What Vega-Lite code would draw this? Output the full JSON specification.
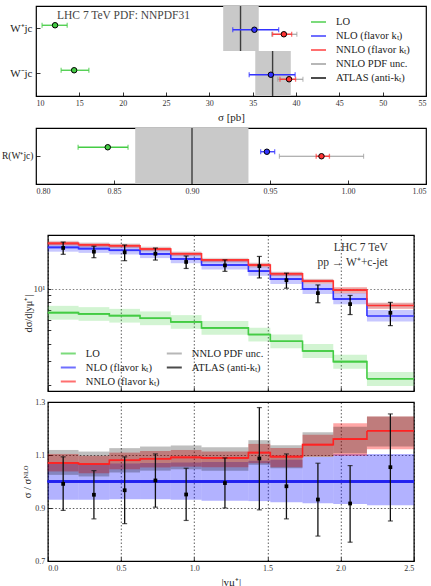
{
  "$schema": "https://vega.github.io/schema/vega-lite/v6.json",
  "background": "white",
  "padding": {"left": 0, "top": 5, "right": 0, "bottom": 0},
  "config": {
    "font": "Liberation Serif",
    "view": {"stroke": "#000", "strokeWidth": 1.2},
    "axis": {
      "domain": false, "grid": false, "labelOverlap": false,
      "labelFont": "Liberation Serif", "labelFontSize": 8, "labelColor": "#333",
      "tickColor": "#000", "tickSize": -4, "tickWidth": 0.8, "labelPadding": 7,
      "titleFont": "Liberation Serif", "titleFontWeight": "normal", "titleFontSize": 11, "titleColor": "#222",
      "gridColor": "#000", "gridDash": [1.5, 2], "gridWidth": 0.8, "gridOpacity": 0.8
    },
    "legend": {
      "labelFont": "Liberation Serif", "labelFontSize": 10.5, "labelColor": "#222",
      "symbolType": "stroke", "symbolSize": 225, "symbolStrokeWidth": 2,
      "padding": 0, "offset": 0, "title": null
    },
    "title": {"font": "Liberation Serif", "fontWeight": "normal", "color": "#444"}
  },
  "datasets": {
    "totals": [
      {"proc": "W⁺jc", "series": "LO", "val": 12.2, "dn": 10.7, "up": 13.6},
      {"proc": "W⁺jc", "series": "NLO (flavor kₜ)", "val": 35.2, "dn": 32.7, "up": 38.0},
      {"proc": "W⁺jc", "series": "NNLO (flavor kₜ)", "val": 38.6, "dn": 37.3, "up": 39.5, "pdf_dn": 37.2, "pdf_up": 40.1},
      {"proc": "W⁺jc", "series": "ATLAS", "val": 33.6, "dn": 31.6, "up": 35.7},
      {"proc": "W⁻jc", "series": "LO", "val": 14.4, "dn": 12.9, "up": 16.1},
      {"proc": "W⁻jc", "series": "NLO (flavor kₜ)", "val": 37.1, "dn": 34.6, "up": 39.9},
      {"proc": "W⁻jc", "series": "NNLO (flavor kₜ)", "val": 39.2, "dn": 38.15, "up": 39.95, "pdf_dn": 37.9, "pdf_up": 40.8},
      {"proc": "W⁻jc", "series": "ATLAS", "val": 37.3, "dn": 35.3, "up": 39.4}
    ],
    "ratio": [
      {"proc": "R(W⁺jc)", "series": "LO", "val": 0.846, "dn": 0.827, "up": 0.859},
      {"proc": "R(W⁺jc)", "series": "NLO (flavor kₜ)", "val": 0.948, "dn": 0.944, "up": 0.953},
      {"proc": "R(W⁺jc)", "series": "NNLO (flavor kₜ)", "val": 0.983, "dn": 0.9796, "up": 0.9881, "pdf_dn": 0.956, "pdf_up": 1.010},
      {"proc": "R(W⁺jc)", "series": "ATLAS", "val": 0.900, "dn": 0.8636, "up": 0.9362}
    ],
    "bins": [
      {"lo": 0.0, "hi": 0.21, "mid": 0.105, "lo_v": 6.73, "lo_dn": 5.99, "lo_up": 7.54, "nlo": 20.0, "nlo_dn": 18.62, "nlo_up": 21.32, "nnlo": 21.40, "sc_dn": 20.76, "sc_up": 22.08, "pdf_dn": 20.50, "pdf_up": 22.38, "at": 19.82, "at_dn": 17.82, "at_up": 21.86, "r_nlo_dn": 0.931, "r_nlo_up": 1.066, "r_nnlo": 1.070, "r_sc_dn": 1.038, "r_sc_up": 1.104, "r_pdf_dn": 1.025, "r_pdf_up": 1.119, "r_at": 0.991, "r_at_dn": 0.891, "r_at_up": 1.093},
      {"lo": 0.21, "hi": 0.42, "mid": 0.315, "lo_v": 6.59, "lo_dn": 5.87, "lo_up": 7.38, "nlo": 19.6, "nlo_dn": 18.25, "nlo_up": 20.89, "nnlo": 20.89, "sc_dn": 20.21, "sc_up": 21.50, "pdf_dn": 19.97, "pdf_up": 21.81, "at": 18.62, "at_dn": 16.84, "at_up": 20.40, "r_nlo_dn": 0.931, "r_nlo_up": 1.066, "r_nnlo": 1.066, "r_sc_dn": 1.031, "r_sc_up": 1.097, "r_pdf_dn": 1.019, "r_pdf_up": 1.113, "r_at": 0.950, "r_at_dn": 0.859, "r_at_up": 1.041},
      {"lo": 0.42, "hi": 0.63, "mid": 0.525, "lo_v": 6.40, "lo_dn": 5.70, "lo_up": 7.17, "nlo": 19.05, "nlo_dn": 17.77, "nlo_up": 20.35, "nnlo": 20.57, "sc_dn": 19.93, "sc_up": 21.13, "pdf_dn": 19.70, "pdf_up": 21.45, "at": 18.42, "at_dn": 16.02, "at_up": 20.82, "r_nlo_dn": 0.933, "r_nlo_up": 1.068, "r_nnlo": 1.080, "r_sc_dn": 1.046, "r_sc_up": 1.109, "r_pdf_dn": 1.034, "r_pdf_up": 1.126, "r_at": 0.967, "r_at_dn": 0.841, "r_at_up": 1.093},
      {"lo": 0.63, "hi": 0.84, "mid": 0.735, "lo_v": 6.13, "lo_dn": 5.46, "lo_up": 6.87, "nlo": 17.93, "nlo_dn": 16.73, "nlo_up": 19.19, "nnlo": 19.47, "sc_dn": 18.88, "sc_up": 19.99, "pdf_dn": 18.67, "pdf_up": 20.30, "at": 18.00, "at_dn": 16.19, "at_up": 19.79, "r_nlo_dn": 0.933, "r_nlo_up": 1.070, "r_nnlo": 1.086, "r_sc_dn": 1.053, "r_sc_up": 1.115, "r_pdf_dn": 1.041, "r_pdf_up": 1.132, "r_at": 1.004, "r_at_dn": 0.903, "r_at_up": 1.104},
      {"lo": 0.84, "hi": 1.05, "mid": 0.945, "lo_v": 5.77, "lo_dn": 5.14, "lo_up": 6.46, "nlo": 16.5, "nlo_dn": 15.36, "nlo_up": 17.69, "nnlo": 18.00, "sc_dn": 17.42, "sc_up": 18.46, "pdf_dn": 17.26, "pdf_up": 18.74, "at": 15.69, "at_dn": 14.07, "at_up": 17.33, "r_nlo_dn": 0.931, "r_nlo_up": 1.072, "r_nnlo": 1.091, "r_sc_dn": 1.056, "r_sc_up": 1.119, "r_pdf_dn": 1.046, "r_pdf_up": 1.136, "r_at": 0.951, "r_at_dn": 0.853, "r_at_up": 1.050},
      {"lo": 1.05, "hi": 1.37, "mid": 1.21, "lo_v": 5.22, "lo_dn": 4.65, "lo_up": 5.85, "nlo": 14.9, "nlo_dn": 13.81, "nlo_up": 16.00, "nnlo": 16.23, "sc_dn": 15.70, "sc_up": 16.58, "pdf_dn": 15.51, "pdf_up": 16.82, "at": 14.81, "at_dn": 13.41, "at_up": 16.23, "r_nlo_dn": 0.927, "r_nlo_up": 1.074, "r_nnlo": 1.089, "r_sc_dn": 1.054, "r_sc_up": 1.113, "r_pdf_dn": 1.041, "r_pdf_up": 1.129, "r_at": 0.994, "r_at_dn": 0.900, "r_at_up": 1.089},
      {"lo": 1.37, "hi": 1.52, "mid": 1.445, "lo_v": 4.67, "lo_dn": 4.16, "lo_up": 5.23, "nlo": 13.45, "nlo_dn": 12.45, "nlo_up": 14.50, "nnlo": 14.92, "sc_dn": 14.38, "sc_up": 15.36, "pdf_dn": 14.30, "pdf_up": 15.55, "at": 14.62, "at_dn": 12.01, "at_up": 17.20, "r_nlo_dn": 0.926, "r_nlo_up": 1.078, "r_nnlo": 1.109, "r_sc_dn": 1.069, "r_sc_up": 1.142, "r_pdf_dn": 1.063, "r_pdf_up": 1.156, "r_at": 1.087, "r_at_dn": 0.893, "r_at_up": 1.279},
      {"lo": 1.52, "hi": 1.74, "mid": 1.63, "lo_v": 4.18, "lo_dn": 3.72, "lo_up": 4.68, "nlo": 11.78, "nlo_dn": 10.86, "nlo_up": 12.75, "nnlo": 12.89, "sc_dn": 12.42, "sc_up": 13.26, "pdf_dn": 12.37, "pdf_up": 13.39, "at": 11.57, "at_dn": 10.12, "at_up": 13.01, "r_nlo_dn": 0.922, "r_nlo_up": 1.082, "r_nnlo": 1.094, "r_sc_dn": 1.054, "r_sc_up": 1.126, "r_pdf_dn": 1.050, "r_pdf_up": 1.137, "r_at": 0.982, "r_at_dn": 0.859, "r_at_up": 1.104},
      {"lo": 1.74, "hi": 1.95, "mid": 1.845, "lo_v": 3.55, "lo_dn": 3.16, "lo_up": 3.98, "nlo": 10.0, "nlo_dn": 9.18, "nlo_up": 10.92, "nnlo": 11.39, "sc_dn": 10.94, "sc_up": 11.76, "pdf_dn": 10.92, "pdf_up": 11.86, "at": 9.32, "at_dn": 7.94, "at_up": 10.69, "r_nlo_dn": 0.918, "r_nlo_up": 1.092, "r_nnlo": 1.139, "r_sc_dn": 1.094, "r_sc_up": 1.176, "r_pdf_dn": 1.092, "r_pdf_up": 1.186, "r_at": 0.932, "r_at_dn": 0.794, "r_at_up": 1.069},
      {"lo": 1.95, "hi": 2.18, "mid": 2.065, "lo_v": 2.97, "lo_dn": 2.64, "lo_up": 3.33, "nlo": 8.46, "nlo_dn": 7.74, "nlo_up": 9.34, "nnlo": 9.81, "sc_dn": 9.28, "sc_up": 10.32, "pdf_dn": 9.37, "pdf_up": 10.21, "at": 7.76, "at_dn": 6.52, "at_up": 8.97, "r_nlo_dn": 0.915, "r_nlo_up": 1.104, "r_nnlo": 1.160, "r_sc_dn": 1.097, "r_sc_up": 1.220, "r_pdf_dn": 1.107, "r_pdf_up": 1.207, "r_at": 0.917, "r_at_dn": 0.771, "r_at_up": 1.060},
      {"lo": 2.18, "hi": 2.5, "mid": 2.34, "lo_v": 2.23, "lo_dn": 1.98, "lo_up": 2.50, "nlo": 6.37, "nlo_dn": 5.80, "nlo_up": 7.03, "nnlo": 7.59, "sc_dn": 7.15, "sc_up": 7.93, "pdf_dn": 7.21, "pdf_up": 7.93, "at": 6.71, "at_dn": 5.42, "at_up": 7.99, "r_nlo_dn": 0.910, "r_nlo_up": 1.104, "r_nnlo": 1.191, "r_sc_dn": 1.122, "r_sc_up": 1.245, "r_pdf_dn": 1.132, "r_pdf_up": 1.245, "r_at": 1.054, "r_at_dn": 0.851, "r_at_up": 1.255}
    ]
  },
  "spacing": 38,
  "center": true,
  "resolve": {"scale": {"color": "independent"}, "legend": {"color": "independent"}},
  "vconcat": [
    {
      "spacing": 4,
      "resolve": {"scale": {"color": "independent"}, "legend": {"color": "independent"}},
      "vconcat": [
        {
          "width": 390, "height": 90,
          "data": {"name": "totals"},
          "title": {"text": "LHC 7 TeV PDF: NNPDF31", "anchor": "start", "align": "left", "frame": "group", "offset": -15, "dx": 21, "fontSize": 11.5},
          "encoding": {
            "y": {"field": "proc", "type": "nominal", "title": null,
                  "scale": {"domain": ["W⁺jc", "W⁻jc"], "paddingInner": 0, "paddingOuter": 0},
                  "axis": {"labelFontSize": 11, "labelColor": "#222", "labelPadding": 8}}
          },
          "layer": [
            {
              "transform": [{"filter": "datum.series === 'ATLAS'"}],
              "mark": {"type": "bar", "color": "#c9c9c9"},
              "encoding": {
                "x": {"field": "dn", "type": "quantitative", "title": "σ [pb]",
                      "scale": {"domain": [10, 55], "nice": false},
                      "axis": {"values": [10, 15, 20, 25, 30, 35, 40, 45, 50, 55], "format": "d", "labelFlush": true}},
                "x2": {"field": "up"}
              }
            },
            {
              "transform": [{"filter": "datum.series === 'ATLAS'"}],
              "mark": {"type": "tick", "size": 45, "thickness": 1.4},
              "encoding": {
                "x": {"field": "val", "type": "quantitative", "title": "σ [pb]"},
                "color": {"datum": "ATLAS (anti-kₜ)"}
              }
            },
            {
              "transform": [{"filter": "isValid(datum.pdf_dn)"}],
              "mark": {"type": "rule", "strokeWidth": 1.1},
              "encoding": {
                "x": {"field": "pdf_dn", "type": "quantitative", "title": "σ [pb]"},
                "x2": {"field": "pdf_up"},
                "yOffset": {"field": "series", "type": "nominal", "scale": {"domain": ["LO", "NLO (flavor kₜ)", "NNLO (flavor kₜ)"], "paddingInner": 0, "paddingOuter": 0, "range": [17, 30.5]}},
                "color": {"datum": "NNLO PDF unc."}
              }
            },
            {
              "transform": [{"filter": "isValid(datum.pdf_dn)"}],
              "mark": {"type": "tick", "size": 5, "thickness": 1.1},
              "encoding": {
                "x": {"field": "pdf_dn", "type": "quantitative", "title": "σ [pb]"},
                "yOffset": {"field": "series", "type": "nominal"},
                "color": {"datum": "NNLO PDF unc."}
              }
            },
            {
              "transform": [{"filter": "isValid(datum.pdf_dn)"}],
              "mark": {"type": "tick", "size": 5, "thickness": 1.1},
              "encoding": {
                "x": {"field": "pdf_up", "type": "quantitative", "title": "σ [pb]"},
                "yOffset": {"field": "series", "type": "nominal"},
                "color": {"datum": "NNLO PDF unc."}
              }
            },
            {
              "transform": [{"filter": "datum.series !== 'ATLAS'"}],
              "mark": {"type": "rule", "strokeWidth": 1.3},
              "encoding": {
                "x": {"field": "dn", "type": "quantitative", "title": "σ [pb]"},
                "x2": {"field": "up"},
                "yOffset": {"field": "series", "type": "nominal"},
                "color": {"field": "series", "type": "nominal"}
              }
            },
            {
              "transform": [{"filter": "datum.series !== 'ATLAS'"}],
              "mark": {"type": "tick", "size": 5, "thickness": 1.3},
              "encoding": {
                "x": {"field": "dn", "type": "quantitative", "title": "σ [pb]"},
                "yOffset": {"field": "series", "type": "nominal"},
                "color": {"field": "series", "type": "nominal"}
              }
            },
            {
              "transform": [{"filter": "datum.series !== 'ATLAS'"}],
              "mark": {"type": "tick", "size": 5, "thickness": 1.3},
              "encoding": {
                "x": {"field": "up", "type": "quantitative", "title": "σ [pb]"},
                "yOffset": {"field": "series", "type": "nominal"},
                "color": {"field": "series", "type": "nominal"}
              }
            },
            {
              "transform": [{"filter": "datum.series !== 'ATLAS'"}],
              "mark": {"type": "point", "filled": true, "size": 30, "stroke": "#000", "strokeWidth": 1, "opacity": 1},
              "encoding": {
                "x": {"field": "val", "type": "quantitative", "title": "σ [pb]"},
                "yOffset": {"field": "series", "type": "nominal"},
                "color": {"field": "series", "type": "nominal",
                          "scale": {"domain": ["LO", "NLO (flavor kₜ)", "NNLO (flavor kₜ)", "NNLO PDF unc.", "ATLAS (anti-kₜ)"],
                                    "range": ["#44cc44", "#3333ff", "#ff3333", "#999999", "#000000"]},
                          "legend": {"orient": "none", "legendX": 274, "legendY": 7.5, "rowPadding": -0.7, "labelOffset": 9,
                                     "encode": {"symbols": {"update": {"stroke": {"signal": "{'LO': '#44cc44', 'NLO (flavor kₜ)': '#3333ff', 'NNLO (flavor kₜ)': '#ff3333', 'NNLO PDF unc.': '#999999', 'ATLAS (anti-kₜ)': '#000000'}[datum.value]"}, "fill": {"value": "transparent"}, "strokeWidth": {"value": 2}, "opacity": {"value": 1}}}}}}
              }
            }
          ]
        },
        {
          "width": 390, "height": 56,
          "data": {"name": "ratio"},
          "encoding": {
            "y": {"field": "proc", "type": "nominal", "title": null,
                  "scale": {"paddingInner": 0, "paddingOuter": 0},
                  "axis": {"labelFontSize": 9.5, "labelColor": "#222", "labelPadding": 7}}
          },
          "layer": [
            {
              "transform": [{"filter": "datum.series === 'ATLAS'"}],
              "mark": {"type": "bar", "color": "#c9c9c9"},
              "encoding": {
                "x": {"field": "dn", "type": "quantitative", "title": null,
                      "scale": {"domain": [0.8, 1.05], "nice": false},
                      "axis": {"values": [0.8, 0.85, 0.9, 0.95, 1.0, 1.05], "format": ".2f", "labelFlush": true}},
                "x2": {"field": "up"}
              }
            },
            {
              "transform": [{"filter": "datum.series === 'ATLAS'"}],
              "mark": {"type": "tick", "size": 56, "thickness": 1.4, "color": "#000"},
              "encoding": {"x": {"field": "val", "type": "quantitative", "title": null}}
            },
            {
              "transform": [{"filter": "isValid(datum.pdf_dn)"}],
              "mark": {"type": "rule", "strokeWidth": 1.1, "color": "#999999"},
              "encoding": {
                "x": {"field": "pdf_dn", "type": "quantitative", "title": null},
                "x2": {"field": "pdf_up"},
                "yOffset": {"field": "series", "type": "nominal", "scale": {"domain": ["LO", "NLO (flavor kₜ)", "NNLO (flavor kₜ)"], "paddingInner": 0, "paddingOuter": 0, "range": [24.5, 33.5]}}
              }
            },
            {
              "transform": [{"filter": "isValid(datum.pdf_dn)"}],
              "mark": {"type": "tick", "size": 5, "thickness": 1.1, "color": "#999999"},
              "encoding": {"x": {"field": "pdf_dn", "type": "quantitative", "title": null}, "yOffset": {"field": "series", "type": "nominal"}}
            },
            {
              "transform": [{"filter": "isValid(datum.pdf_dn)"}],
              "mark": {"type": "tick", "size": 5, "thickness": 1.1, "color": "#999999"},
              "encoding": {"x": {"field": "pdf_up", "type": "quantitative", "title": null}, "yOffset": {"field": "series", "type": "nominal"}}
            },
            {
              "transform": [{"filter": "datum.series !== 'ATLAS'"}],
              "mark": {"type": "rule", "strokeWidth": 1.3},
              "encoding": {
                "x": {"field": "dn", "type": "quantitative", "title": null},
                "x2": {"field": "up"},
                "yOffset": {"field": "series", "type": "nominal"},
                "color": {"field": "series", "type": "nominal", "legend": null,
                          "scale": {"domain": ["LO", "NLO (flavor kₜ)", "NNLO (flavor kₜ)"], "range": ["#44cc44", "#3333ff", "#ff3333"]}}
              }
            },
            {
              "transform": [{"filter": "datum.series !== 'ATLAS'"}],
              "mark": {"type": "tick", "size": 5, "thickness": 1.3},
              "encoding": {"x": {"field": "dn", "type": "quantitative", "title": null}, "yOffset": {"field": "series", "type": "nominal"}, "color": {"field": "series", "type": "nominal", "legend": null}}
            },
            {
              "transform": [{"filter": "datum.series !== 'ATLAS'"}],
              "mark": {"type": "tick", "size": 5, "thickness": 1.3},
              "encoding": {"x": {"field": "up", "type": "quantitative", "title": null}, "yOffset": {"field": "series", "type": "nominal"}, "color": {"field": "series", "type": "nominal", "legend": null}}
            },
            {
              "transform": [{"filter": "datum.series !== 'ATLAS'"}],
              "mark": {"type": "point", "filled": true, "size": 30, "stroke": "#000", "strokeWidth": 1, "opacity": 1},
              "encoding": {"x": {"field": "val", "type": "quantitative", "title": null}, "yOffset": {"field": "series", "type": "nominal"}, "color": {"field": "series", "type": "nominal", "legend": null}}
            }
          ]
        }
      ]
    },
    {
      "spacing": 5,
      "resolve": {"scale": {"color": "independent"}, "legend": {"color": "independent"}},
      "vconcat": [
        {
          "width": 366, "height": 156,
          "data": {"name": "bins"},
          "title": {"text": ["LHC 7 TeV", "pp → W⁺+c-jet"], "anchor": "end", "frame": "group", "align": "right", "offset": -33, "dx": -26, "fontSize": 11.5, "lineHeight": 15, "color": "#333"},
          "layer": [
            {
              "mark": {"type": "rect", "color": "#33cc33", "opacity": 0.22},
              "encoding": {
                "x": {"field": "lo", "type": "quantitative", "title": null,
                      "scale": {"domain": [0, 2.5], "nice": false},
                      "axis": {"values": [0, 0.5, 1, 1.5, 2, 2.5], "labels": false, "grid": true}},
                "x2": {"field": "hi"},
                "y": {"field": "lo_dn", "type": "quantitative", "title": "dσ/d|yμ⁺|",
                      "scale": {"type": "log", "domain": [1.82, 24.6], "nice": false},
                      "axis": {"values": [2, 3, 4, 5, 6, 7, 8, 9, 10, 20], "labelExpr": "datum.value == 10 ? '10¹' : ''", "labelFontSize": 9, "labelPadding": 6, "tickSize": -3, "titlePadding": 0, "titleFontSize": 10.5,
                               "grid": true, "gridOpacity": {"condition": {"test": "datum.value == 10", "value": 0.8}, "value": 0}}},
                "y2": {"field": "lo_up"}
              }
            },
            {
              "mark": {"type": "rect", "color": "#0000ff", "opacity": 0.22},
              "encoding": {"x": {"field": "lo", "type": "quantitative", "title": null}, "x2": {"field": "hi"}, "y": {"field": "nlo_dn", "type": "quantitative", "title": "dσ/d|yμ⁺|"}, "y2": {"field": "nlo_up"}}
            },
            {
              "mark": {"type": "rect", "color": "#ff0000", "opacity": 0.25},
              "encoding": {"x": {"field": "lo", "type": "quantitative", "title": null}, "x2": {"field": "hi"}, "y": {"field": "sc_dn", "type": "quantitative", "title": "dσ/d|yμ⁺|"}, "y2": {"field": "sc_up"}}
            },
            {
              "mark": {"type": "rect", "color": "#000000", "opacity": 0.1},
              "encoding": {"x": {"field": "lo", "type": "quantitative", "title": null}, "x2": {"field": "hi"}, "y": {"field": "pdf_dn", "type": "quantitative", "title": "dσ/d|yμ⁺|"}, "y2": {"field": "pdf_up"}}
            },
            {
              "mark": {"type": "line", "interpolate": "step-after", "strokeWidth": 1.6},
              "encoding": {"x": {"field": "lo", "type": "quantitative", "title": null}, "y": {"field": "lo_v", "type": "quantitative", "title": "dσ/d|yμ⁺|"}, "color": {"datum": "LO"}}
            },
            {
              "mark": {"type": "rule", "strokeWidth": 1.6},
              "encoding": {"x": {"field": "lo", "type": "quantitative", "title": null}, "x2": {"field": "hi"}, "y": {"field": "lo_v", "type": "quantitative", "title": "dσ/d|yμ⁺|"}, "color": {"datum": "LO"}}
            },
            {
              "mark": {"type": "line", "interpolate": "step-after", "strokeWidth": 1.6},
              "encoding": {"x": {"field": "lo", "type": "quantitative", "title": null}, "y": {"field": "nlo", "type": "quantitative", "title": "dσ/d|yμ⁺|"}, "color": {"datum": "NLO (flavor kₜ)"}}
            },
            {
              "mark": {"type": "rule", "strokeWidth": 1.6},
              "encoding": {"x": {"field": "lo", "type": "quantitative", "title": null}, "x2": {"field": "hi"}, "y": {"field": "nlo", "type": "quantitative", "title": "dσ/d|yμ⁺|"}, "color": {"datum": "NLO (flavor kₜ)"}}
            },
            {
              "mark": {"type": "line", "interpolate": "step-after", "strokeWidth": 1.6},
              "encoding": {"x": {"field": "lo", "type": "quantitative", "title": null}, "y": {"field": "nnlo", "type": "quantitative", "title": "dσ/d|yμ⁺|"}, "color": {"datum": "NNLO (flavor kₜ)"}}
            },
            {
              "mark": {"type": "rule", "strokeWidth": 1.6},
              "encoding": {"x": {"field": "lo", "type": "quantitative", "title": null}, "x2": {"field": "hi"}, "y": {"field": "nnlo", "type": "quantitative", "title": "dσ/d|yμ⁺|"}, "color": {"datum": "NNLO (flavor kₜ)"}}
            },
            {
              "mark": {"type": "rule", "strokeWidth": 1.3},
              "encoding": {"x": {"field": "mid", "type": "quantitative", "title": null}, "y": {"field": "at_dn", "type": "quantitative", "title": "dσ/d|yμ⁺|"}, "y2": {"field": "at_up"}, "color": {"datum": "ATLAS (anti-kₜ)"}}
            },
            {
              "mark": {"type": "tick", "orient": "horizontal", "size": 5, "thickness": 1.2},
              "encoding": {"x": {"field": "mid", "type": "quantitative", "title": null}, "y": {"field": "at_dn", "type": "quantitative", "title": "dσ/d|yμ⁺|"}, "color": {"datum": "ATLAS (anti-kₜ)"}}
            },
            {
              "mark": {"type": "tick", "orient": "horizontal", "size": 5, "thickness": 1.2},
              "encoding": {"x": {"field": "mid", "type": "quantitative", "title": null}, "y": {"field": "at_up", "type": "quantitative", "title": "dσ/d|yμ⁺|"}, "color": {"datum": "ATLAS (anti-kₜ)"}}
            },
            {
              "mark": {"type": "point", "shape": "square", "filled": true, "size": 14, "opacity": 1},
              "encoding": {
                "x": {"field": "mid", "type": "quantitative", "title": null},
                "y": {"field": "at", "type": "quantitative", "title": "dσ/d|yμ⁺|"},
                "color": {"datum": "ATLAS (anti-kₜ)",
                          "scale": {"domain": ["LO", "NLO (flavor kₜ)", "NNLO (flavor kₜ)", "NNLO PDF unc.", "ATLAS (anti-kₜ)"],
                                    "range": ["#44cc44", "#3333ff", "#ff3333", "#999999", "#000000"]},
                          "legend": {"orient": "none", "legendX": 12, "legendY": 110, "columns": 2, "columnPadding": 3, "rowPadding": -3.2, "labelOffset": 9,
                                     "encode": {"symbols": {"update": {"stroke": {"signal": "{'LO': '#44cc44', 'NLO (flavor kₜ)': '#3333ff', 'NNLO (flavor kₜ)': '#ff3333', 'NNLO PDF unc.': '#999999', 'ATLAS (anti-kₜ)': '#000000'}[datum.value]"}, "fill": {"value": "transparent"}, "strokeWidth": {"value": 2}, "opacity": {"value": 1}}}}}}
              }
            }
          ]
        },
        {
          "width": 366, "height": 159,
          "data": {"name": "bins"},
          "layer": [
            {
              "mark": {"type": "rect", "color": "#0000ff", "opacity": 0.3},
              "encoding": {
                "x": {"field": "lo", "type": "quantitative", "title": "|yμ⁺|",
                      "scale": {"domain": [0, 2.5], "nice": false},
                      "axis": {"values": [0, 0.5, 1, 1.5, 2, 2.5], "format": ".1f", "grid": true, "titlePadding": 4}},
                "x2": {"field": "hi"},
                "y": {"field": "r_nlo_dn", "type": "quantitative", "title": "σ / σᴺᴸᴼ",
                      "scale": {"domain": [0.7, 1.3], "nice": false},
                      "axis": {"values": [0.7, 0.8, 0.9, 1.0, 1.1, 1.2, 1.3], "format": ".1f", "grid": true, "titlePadding": 2, "titleFontSize": 10.5}},
                "y2": {"field": "r_nlo_up"}
              }
            },
            {
              "mark": {"type": "rect", "color": "#ff0000", "opacity": 0.35},
              "encoding": {"x": {"field": "lo", "type": "quantitative", "title": "|yμ⁺|"}, "x2": {"field": "hi"}, "y": {"field": "r_sc_dn", "type": "quantitative", "title": "σ / σᴺᴸᴼ"}, "y2": {"field": "r_sc_up"}}
            },
            {
              "mark": {"type": "rect", "color": "#000000", "opacity": 0.25},
              "encoding": {"x": {"field": "lo", "type": "quantitative", "title": "|yμ⁺|"}, "x2": {"field": "hi"}, "y": {"field": "r_pdf_dn", "type": "quantitative", "title": "σ / σᴺᴸᴼ"}, "y2": {"field": "r_pdf_up"}}
            },
            {
              "mark": {"type": "rule", "color": "#2222ee", "strokeWidth": 1.6},
              "encoding": {"y": {"datum": 1.0, "type": "quantitative", "title": "σ / σᴺᴸᴼ"}}
            },
            {
              "mark": {"type": "line", "interpolate": "step-after", "color": "#ff2222", "strokeWidth": 1.6},
              "encoding": {"x": {"field": "lo", "type": "quantitative", "title": "|yμ⁺|"}, "y": {"field": "r_nnlo", "type": "quantitative", "title": "σ / σᴺᴸᴼ"}}
            },
            {
              "mark": {"type": "rule", "color": "#ff2222", "strokeWidth": 1.6},
              "encoding": {"x": {"field": "lo", "type": "quantitative", "title": "|yμ⁺|"}, "x2": {"field": "hi"}, "y": {"field": "r_nnlo", "type": "quantitative", "title": "σ / σᴺᴸᴼ"}}
            },
            {
              "mark": {"type": "rule", "color": "#111", "strokeWidth": 1.3},
              "encoding": {"x": {"field": "mid", "type": "quantitative", "title": "|yμ⁺|"}, "y": {"field": "r_at_dn", "type": "quantitative", "title": "σ / σᴺᴸᴼ"}, "y2": {"field": "r_at_up"}}
            },
            {
              "mark": {"type": "tick", "orient": "horizontal", "size": 5, "thickness": 1.2, "color": "#111"},
              "encoding": {"x": {"field": "mid", "type": "quantitative", "title": "|yμ⁺|"}, "y": {"field": "r_at_dn", "type": "quantitative", "title": "σ / σᴺᴸᴼ"}}
            },
            {
              "mark": {"type": "tick", "orient": "horizontal", "size": 5, "thickness": 1.2, "color": "#111"},
              "encoding": {"x": {"field": "mid", "type": "quantitative", "title": "|yμ⁺|"}, "y": {"field": "r_at_up", "type": "quantitative", "title": "σ / σᴺᴸᴼ"}}
            },
            {
              "mark": {"type": "point", "shape": "square", "filled": true, "size": 14, "color": "#000", "opacity": 1},
              "encoding": {"x": {"field": "mid", "type": "quantitative", "title": "|yμ⁺|"}, "y": {"field": "r_at", "type": "quantitative", "title": "σ / σᴺᴸᴼ"}}
            }
          ]
        }
      ]
    }
  ]
}
